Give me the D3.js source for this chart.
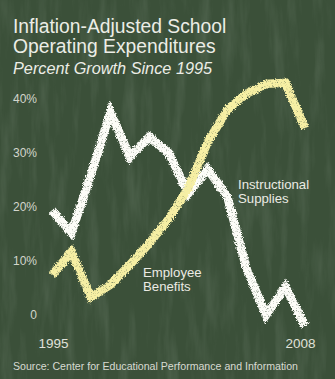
<!DOCTYPE html>
<html>
<head>
<meta charset="utf-8">
<script src="https://cdn.jsdelivr.net/npm/d3@7/dist/d3.min.js"></script>
<style>
  html, body { margin: 0; padding: 0; background: #3b5039; }
  svg { display: block; }
  text { font-family: "Liberation Sans", Arial, Helvetica, sans-serif; }
</style>
</head>
<body>
<div id="chart"></div>
<script>
// Years on the x axis
const years = [1995, 1996, 1997, 1998, 1999, 2000, 2001, 2002, 2003, 2004, 2005, 2006, 2007, 2008];
// Percent growth since 1995, inflation-adjusted
const instructionalSupplies = [19.4, 15.2, 26, 37.6, 29.3, 33, 30, 22.5, 27, 22, 8.5, 0, 5.2, -2];
const employeeBenefits = [7.4, 11.7, 3.3, 5.6, 9.3, 13.3, 17.8, 23.5, 32, 38, 41, 42.8, 43, 34.6];
// Axis tick values and labels
const yTicks = [0, 10, 20, 30, 40];
const yTickLabels = ["0", "10%", "20%", "30%", "40%"];
const xTickYears = [1995, 2008];

const W = 335, H = 379;
const svg = d3.select("#chart").append("svg").attr("width", W).attr("height", H);
const defs = svg.append("defs");

// Chalkboard smudge texture (faint vertical streaks)
const board = defs.append("filter").attr("id", "board")
  .attr("x", 0).attr("y", 0).attr("width", "100%").attr("height", "100%");
board.append("feTurbulence").attr("type", "fractalNoise")
  .attr("baseFrequency", "0.08 0.012").attr("numOctaves", 4).attr("seed", 7).attr("result", "n");
board.append("feColorMatrix").attr("in", "n").attr("type", "matrix")
  .attr("values", "0 0 0 0 0.75  0 0 0 0 0.85  0 0 0 0 0.75  0.9 0 0 0 -0.42");

// Rough, grainy chalk stroke
const chalk = defs.append("filter").attr("id", "chalk")
  .attr("x", "-5%").attr("y", "-5%").attr("width", "110%").attr("height", "110%");
chalk.append("feTurbulence").attr("type", "fractalNoise")
  .attr("baseFrequency", 1.1).attr("numOctaves", 2).attr("seed", 3).attr("result", "noise");
chalk.append("feDisplacementMap").attr("in", "SourceGraphic").attr("in2", "noise")
  .attr("scale", 4.5).attr("xChannelSelector", "R").attr("yChannelSelector", "G").attr("result", "rough");
chalk.append("feTurbulence").attr("type", "fractalNoise")
  .attr("baseFrequency", 1.8).attr("numOctaves", 1).attr("seed", 11).attr("result", "grain");
chalk.append("feColorMatrix").attr("in", "grain").attr("type", "matrix")
  .attr("values", "0 0 0 0 0  0 0 0 0 0  0 0 0 0 0  0 0 0 -2.6 2.5").attr("result", "grainAlpha");
chalk.append("feComposite").attr("in", "rough").attr("in2", "grainAlpha").attr("operator", "in");

svg.append("rect").attr("width", W).attr("height", H).attr("fill", "#3b5039");
svg.append("rect").attr("width", W).attr("height", H).attr("filter", "url(#board)").attr("opacity", 0.28);

// Scales
const x = d3.scaleLinear().domain([1995, 2008]).range([52, 305]);
const y = d3.scaleLinear().domain([0, 40]).range([315, 99]);

// Title block
const title = svg.append("g").attr("fill", "#ecede6");
title.append("text").attr("x", 13).attr("y", 33).attr("font-size", 19.3).text("Inflation-Adjusted School");
title.append("text").attr("x", 13).attr("y", 53).attr("font-size", 19.3).text("Operating Expenditures");
title.append("text").attr("x", 13).attr("y", 74).attr("font-size", 16.3).attr("font-style", "italic").text("Percent Growth Since 1995");

// Y axis labels
const yAxis = d3.axisLeft(y).tickValues(yTicks)
  .tickFormat((d, i) => yTickLabels[i]).tickSize(0).tickPadding(0);
const gy = svg.append("g").attr("transform", "translate(37,0)").call(yAxis);
gy.select(".domain").remove();
gy.selectAll("text").attr("fill", "#d3d6cc").attr("font-size", 12)
  .attr("font-family", "'Liberation Sans', Arial, sans-serif");

// X axis labels (end years only)
const xAxis = d3.axisBottom(x).tickValues(xTickYears).tickFormat(d3.format("d")).tickSize(0).tickPadding(0);
const gx = svg.append("g").attr("transform", "translate(0,338)").call(xAxis);
gx.select(".domain").remove();
gx.selectAll("text").attr("fill", "#e0e2da").attr("font-size", 13.5)
  .attr("font-family", "'Liberation Sans', Arial, sans-serif")
  .attr("text-anchor", (d) => d === 2008 ? "end" : "middle")
  .attr("dx", (d) => d === 2008 ? 10 : 1);

// Chalk lines
const line = d3.line().x((d, i) => x(years[i])).y((d) => y(d));
svg.append("path").datum(instructionalSupplies)
  .attr("d", line).attr("fill", "none").attr("stroke", "#fdfdf8")
  .attr("stroke-width", 8.5).attr("stroke-linejoin", "miter").attr("stroke-linecap", "butt")
  .attr("filter", "url(#chalk)");
svg.append("path").datum(employeeBenefits)
  .attr("d", line).attr("fill", "none").attr("stroke", "#f6efa4")
  .attr("stroke-width", 8.5).attr("stroke-linejoin", "miter").attr("stroke-linecap", "butt")
  .attr("filter", "url(#chalk)");

// Series labels
const lab = svg.append("g").attr("fill", "#ebebe4").attr("font-size", 13.2);
lab.append("text").attr("x", 238).attr("y", 189).text("Instructional");
lab.append("text").attr("x", 238).attr("y", 203).text("Supplies");
lab.append("text").attr("x", 143).attr("y", 277).text("Employee");
lab.append("text").attr("x", 143).attr("y", 291).text("Benefits");

// Source note
svg.append("text").attr("x", 13).attr("y", 370).attr("font-size", 10.6)
  .attr("fill", "#d8dad2").text("Source: Center for Educational Performance and Information");
</script>
</body>
</html>
